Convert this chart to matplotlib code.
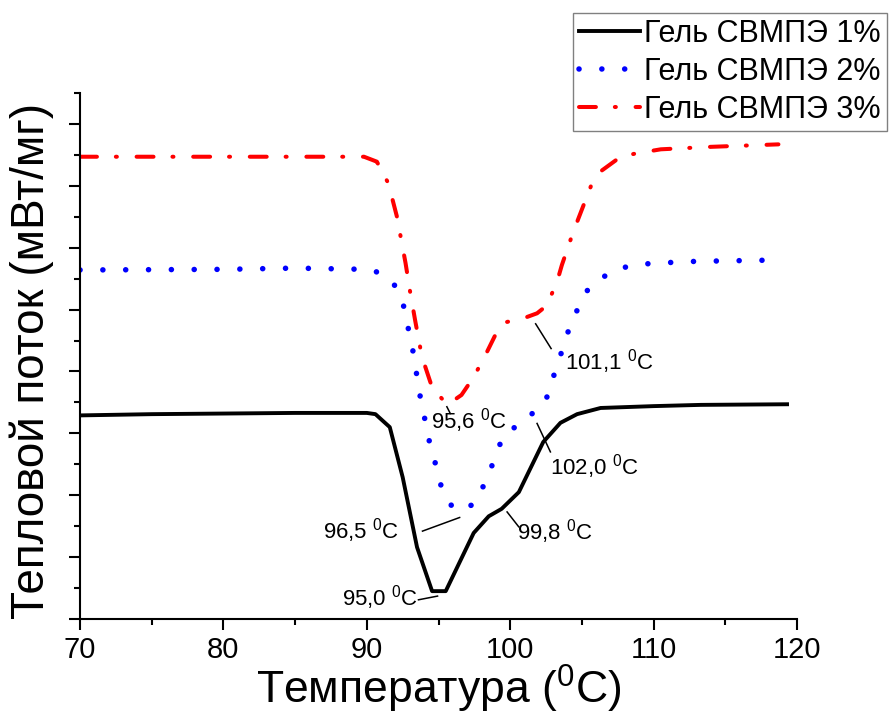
import matplotlib
matplotlib.use("Agg")
import matplotlib.pyplot as plt
from matplotlib.ticker import MultipleLocator, NullFormatter

plt.rcParams['font.family'] = ['Liberation Sans', 'DejaVu Sans']
plt.rcParams['mathtext.fontset'] = 'custom'
plt.rcParams['mathtext.rm'] = 'Liberation Sans'
plt.rcParams['mathtext.it'] = 'Liberation Sans:italic'

# DSC curves of UHMWPE gels, heat flow in arbitrary units
t1 = [70, 75, 80, 85, 90, 90.6, 91.6, 92.5, 93.5, 94.55, 95.5, 97.45, 98.5, 99.4,
      100.6, 102.3, 103.5, 104.66, 106.3, 110, 113.3, 119.3]
q1 = [3.29, 3.31, 3.32, 3.33, 3.33, 3.31, 3.10, 2.29, 1.16, 0.45, 0.45, 1.39, 1.66, 1.78,
      2.05, 2.86, 3.17, 3.31, 3.41, 3.44, 3.46, 3.47]

t2 = [70, 80, 85, 90, 90.6, 91.86, 92.56, 93.2, 93.7, 94.35, 94.77, 95.2, 96.0, 96.5,
      97.5, 98.26, 98.9, 99.5, 101.1, 102.45, 102.96, 103.45, 103.96, 104.6, 105.47,
      107.0, 108.5, 110.1, 113, 118.5]
q2 = [5.64, 5.65, 5.67, 5.65, 5.62, 5.43, 5.06, 4.35, 3.62, 2.88, 2.52, 2.13, 1.79, 1.76,
      1.86, 2.21, 2.58, 2.96, 3.23, 3.51, 3.88, 4.22, 4.60, 4.96, 5.35,
      5.61, 5.72, 5.75, 5.78, 5.80]

t3 = [70, 80, 89.8, 90.7, 91.5, 92.1, 92.7, 93.03, 93.38, 93.84, 94.54, 95.6, 96.6, 97.45,
      98.26, 98.96, 99.77, 100.93, 101.87, 102.57, 103.3, 103.6, 104.4, 104.9, 105.7,
      106.4, 107.7, 108.7, 110.5, 114, 118.7]
q3 = [7.47, 7.47, 7.47, 7.39, 7.04, 6.50, 5.75, 5.27, 4.81, 4.24, 3.75, 3.46, 3.62, 3.91,
      4.26, 4.59, 4.80, 4.86, 4.94, 5.07, 5.48, 5.72, 6.26, 6.56, 7.04,
      7.25, 7.47, 7.52, 7.59, 7.63, 7.67]

labels = ['Гель СВМПЭ 1%', 'Гель СВМПЭ 2%', 'Гель СВМПЭ 3%']

# peak labels: text, text position (left/right edge, centre), leader line
peak_text = ['95,0', '96,5', '95,6', '99,8', '102,0', '101,1']
peak_pos = [(93.59, 0.34), (86.94, 1.43), (94.49, 3.20), (100.47, 1.41), (102.75, 2.46), (103.85, 4.16)]
peak_ha = ['right', 'left', 'left', 'left', 'left', 'left']
peak_lx = [(93.6, 94.93), (93.88, 96.47), (95.58, 95.82), (99.78, 100.59), (101.87, 102.80), (101.77, 102.85)]
peak_ly = [(0.31, 0.37), (1.42, 1.64), (3.43, 3.32), (1.73, 1.49), (3.16, 2.70), (4.77, 4.37)]

fig = plt.figure(figsize=(8.89, 7.17), dpi=100)
ax = fig.add_axes([0.09, 0.1367, 0.8066, 0.7336])

ax.plot(t1, q1, color='black', lw=2.8, label=labels[0])
ax.plot(t2, q2, color='#0000ff', lw=4.0, dashes=(0.01, 4.1), dash_capstyle='round', label=labels[1])
ax.plot(t3, q3, color='#ff0000', lw=2.9, dashes=(4.2, 4.7, 0.25, 4.9), dash_capstyle='round', label=labels[2])

for txt, (x, y), ha, lx, ly in zip(peak_text, peak_pos, peak_ha, peak_lx, peak_ly):
    ax.plot(lx, ly, color='black', lw=1.1)
    ax.text(x, y, txt + r' $^{0}$C', fontsize=16, ha=ha, va='center')

ax.set_xlim(70, 120)
ax.set_ylim(0, 8.5)
ax.xaxis.set_major_locator(MultipleLocator(10))
ax.xaxis.set_minor_locator(MultipleLocator(5))
ax.yaxis.set_major_locator(MultipleLocator(1))
ax.yaxis.set_minor_locator(MultipleLocator(0.5))
ax.yaxis.set_major_formatter(NullFormatter())

for s in ['top', 'right']:
    ax.spines[s].set_visible(False)
for s in ['left', 'bottom']:
    ax.spines[s].set_linewidth(1.5)
ax.tick_params(which='major', length=8, width=1.5, direction='out', labelsize=21, pad=4)
ax.tick_params(which='minor', length=4, width=1.5, direction='out')

ax.set_xlabel(r'Температура ($^{0}$C)', fontsize=32, va='top')
ax.xaxis.set_label_coords(0.5, -0.083)
ax.set_ylabel('Тепловой поток (мВт/мг)', fontsize=33)
ax.yaxis.set_label_coords(-0.036, 0.49)

leg = ax.legend(loc='upper left', bbox_to_anchor=(0.6445, 0.982), bbox_transform=fig.transFigure,
                fontsize=22, handlelength=2.0, handletextpad=0.12, borderpad=0.2,
                labelspacing=0.26, borderaxespad=0, fancybox=False, framealpha=1)
leg.get_frame().set_edgecolor('#808080')
leg.get_frame().set_linewidth(1.0)

fig.savefig('out.png', dpi=100)
